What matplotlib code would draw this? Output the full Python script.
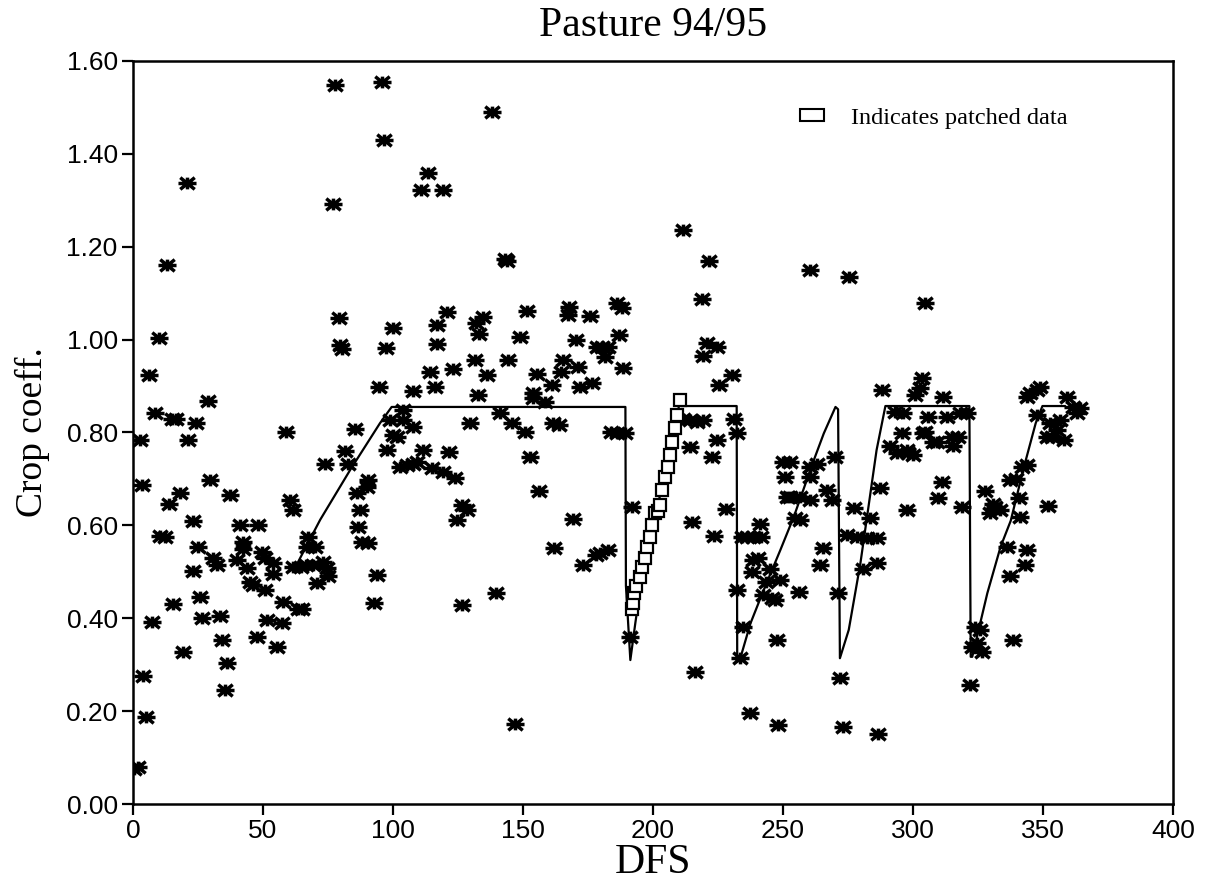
import matplotlib
matplotlib.use("Agg")
import matplotlib.pyplot as plt
import matplotlib.patches as mpatches
from matplotlib.path import Path

# ---- measured crop coefficient (asterisks) ----
obs_dfs = [0.5, 1.8, 2.7, 3.5, 4.0, 5.0, 6.3, 7.2, 8.5, 10.1, 10.4, 12.3, 13.0, 14.0, 15.0, 16.5,
           15.5, 18.1, 19.3, 20.6, 21.3, 23.2, 23.2, 24.2, 25.1, 25.8, 26.4, 29.0, 29.6, 30.9,
           32.2, 33.5, 34.1, 35.4, 36.3, 37.3, 39.9, 41.2, 42.4, 42.4, 43.7, 45.0, 46.3, 47.6,
           48.2, 49.5, 50.8, 50.8, 51.4, 54.0, 54.0, 55.3, 57.2, 57.8, 58.8,
           60.4, 61.7, 61.5, 63.6, 64.9, 64.5, 66.5, 66.8, 67.4, 69.4, 70.0, 70.7, 73.2, 73.8,
           74.5, 75.1, 76.8, 77.7, 79.4, 79.6, 80.5, 81.5, 82.8, 85.4, 86.0, 86.7, 87.3, 88.0,
           89.9, 90.5, 90.5, 92.8, 93.7, 94.7, 95.7, 96.5, 97.3, 97.6, 98.8, 100.1,
           100.1, 101.4, 102.7, 104.0, 104.0, 105.3, 107.8, 107.8, 107.8, 109.1, 110.6, 111.7,
           113.6, 114.2, 114.9, 116.2, 117.1, 117.1, 119.1, 119.4, 120.7, 121.7, 123.0, 124.0,
           124.5, 126.4, 126.4, 129.5, 128.3,
           132.0, 133.0, 134.7, 132.8, 131.5, 136.3, 138.0, 139.6, 141.2, 143.1, 144.0, 144.4,
           145.7, 146.9, 148.8, 150.8, 151.7, 152.7, 154.0, 154.0, 155.3, 156.3, 158.5, 161.0,
           161.7, 162.0, 163.7, 164.5, 165.5, 167.4, 167.7, 169.4, 170.3, 171.3, 171.9, 173.2,
           175.8, 176.4, 178.0, 178.5, 179.6, 180.5, 181.5, 182.8, 182.8, 184.0, 186.0, 186.2,
           187.0, 188.0, 188.3, 189.4,
           191.2, 191.8, 211.7, 211.7, 214.4, 214.4, 215.2, 216.2, 216.8, 219.0, 219.4, 219.4,
           220.9, 221.7, 222.7, 223.3, 224.5, 224.5, 225.3, 227.9, 230.3, 231.0, 232.2,
           232.5, 233.5, 234.2, 234.7, 236.0, 237.3, 238.0, 238.6, 238.6, 240.5, 241.2, 241.5,
           242.5, 243.4, 245.0, 245.8, 247.0, 247.6, 248.2, 249.0, 250.1, 250.8, 251.6, 252.7,
           252.7, 254.6, 256.0, 256.7, 256.7, 260.3, 260.4, 260.4, 260.4, 263.0, 264.2, 265.5,
           267.0, 268.7, 270.0, 271.3, 272.0, 273.2,
           274.5, 275.3, 277.2, 278.3, 282.2, 280.9, 283.5, 286.0, 286.0, 286.7, 287.3, 288.0,
           291.2, 293.1, 293.7, 295.7, 296.3, 297.6, 297.6, 298.2, 300.1, 300.8, 302.7, 303.3,
           304.0, 304.6, 304.6, 305.9, 307.8, 309.1, 309.7, 311.0, 311.7, 312.9, 314.9, 315.5,
           317.4, 318.1, 318.7, 320.6,
           321.9, 322.6, 323.8, 324.5, 325.8, 326.4, 327.7, 329.6, 330.9, 331.5, 333.5, 336.0,
           337.3, 337.3, 338.6, 339.5, 340.7, 341.2, 341.8, 343.1, 343.7, 343.7, 343.7, 345.0,
           347.6, 349.0, 347.6, 351.4, 351.8, 352.7, 353.5, 355.3, 356.5, 358.0, 359.1, 361.7,
           363.0, 364.2]
obs_kc = [0.075, 0.08, 0.784, 0.687, 0.276, 0.188, 0.924, 0.393, 0.841, 1.003, 0.577, 0.574, 1.161, 0.647, 0.828, 0.828,
          0.431, 0.670, 0.328, 1.337, 0.784, 0.610, 0.502, 0.821, 0.554, 0.446, 0.400, 0.868, 0.698, 0.529,
          0.515, 0.405, 0.353, 0.245, 0.303, 0.665, 0.525, 0.601, 0.565, 0.550, 0.508, 0.479, 0.472, 0.360,
          0.601, 0.543, 0.529, 0.461, 0.396, 0.518, 0.496, 0.339, 0.390, 0.436, 0.800,
          0.655, 0.633, 0.510, 0.421, 0.421, 0.510, 0.515, 0.554, 0.576, 0.515, 0.554, 0.477, 0.522, 0.733,
          0.508, 0.490, 1.291, 1.548, 1.046, 0.988, 0.980, 0.761, 0.733, 0.807, 0.669, 0.597, 0.633, 0.565,
          0.683, 0.698, 0.561, 0.432, 0.493, 0.899, 1.554, 1.430, 0.983, 0.762, 0.827, 1.024,
          0.795, 0.791, 0.726, 0.848, 0.827, 0.730, 0.812, 0.733, 0.890, 0.737, 1.322, 0.762,
          1.358, 0.931, 0.723, 0.899, 1.031, 0.990, 1.322, 0.716, 1.060, 0.757, 0.936, 0.701,
          0.612, 0.644, 0.428, 0.820, 0.633,
          1.035, 1.013, 1.049, 0.881, 0.956, 0.924, 1.491, 0.454, 0.842, 1.173, 1.170, 0.956,
          0.820, 0.172, 1.005, 0.800, 1.062, 0.747, 0.884, 0.874, 0.927, 0.675, 0.866, 0.902,
          0.820, 0.552, 0.816, 0.931, 0.956, 1.053, 1.071, 0.614, 0.999, 0.942, 0.899, 0.515,
          1.051, 0.906, 0.536, 0.985, 0.540, 0.985, 0.963, 0.985, 0.547, 0.800, 1.078, 0.798,
          1.011, 1.067, 0.938, 0.798,
          0.360, 0.640, 1.236, 0.830, 0.827, 0.769, 0.608, 0.285, 0.823, 1.087, 0.965, 0.827,
          0.992, 1.170, 0.748, 0.577, 0.985, 0.784, 0.902, 0.636, 0.924, 0.830, 0.798,
          0.461, 0.314, 0.576, 0.382, 0.576, 0.195, 0.500, 0.576, 0.525, 0.529, 0.604, 0.576,
          0.450, 0.479, 0.505, 0.443, 0.439, 0.353, 0.170, 0.482, 0.737, 0.705, 0.662, 0.737,
          0.662, 0.615, 0.457, 0.662, 0.612, 1.150, 0.726, 0.705, 0.655, 0.733, 0.515, 0.551,
          0.676, 0.655, 0.748, 0.455, 0.271, 0.166,
          0.579, 1.135, 0.637, 0.576, 0.572, 0.507, 0.615, 0.572, 0.518, 0.151, 0.680, 0.891,
          0.770, 0.845, 0.755, 0.798, 0.841, 0.762, 0.633, 0.755, 0.751, 0.881, 0.895, 0.917,
          0.798, 1.078, 0.802, 0.834, 0.780, 0.780, 0.658, 0.694, 0.877, 0.834, 0.791, 0.770,
          0.791, 0.841, 0.640, 0.841,
          0.256, 0.339, 0.382, 0.346, 0.375, 0.328, 0.673, 0.626, 0.647, 0.640, 0.633, 0.554,
          0.698, 0.490, 0.353, 0.699, 0.658, 0.619, 0.726, 0.515, 0.547, 0.730, 0.877, 0.884,
          0.891, 0.899, 0.838, 0.791, 0.642, 0.820, 0.790, 0.805, 0.827, 0.784, 0.877, 0.855,
          0.841, 0.852]

# ---- crop coefficient curve ----
curve_dfs = [62.0, 72.0, 83.5, 95.0, 99.5, 189.4, 189.6, 191.3, 193.2, 198.3, 203.5, 207.3, 210.3,
             210.8, 232.2, 232.4, 233.6, 237.5, 242.6, 249.0, 254.2, 261.9, 265.7, 270.2, 271.2,
             271.9, 275.3, 279.8, 286.0, 289.4, 321.7, 322.2, 322.8, 328.6, 333.7, 337.6, 342.7,
             347.2, 349.8, 358.4]
curve_kc = [0.505, 0.612, 0.719, 0.820, 0.855, 0.855, 0.470, 0.310, 0.389, 0.590, 0.676, 0.784, 0.865,
            0.857, 0.857, 0.315, 0.314, 0.389, 0.461, 0.547, 0.619, 0.741, 0.798, 0.855, 0.850,
            0.314, 0.375, 0.519, 0.762, 0.857, 0.857, 0.317, 0.317, 0.454, 0.554, 0.610, 0.726,
            0.820, 0.857, 0.857]

# ---- patched data (open squares) ----
patch_dfs = [192.0, 192.3, 192.6, 193.5, 194.9, 195.8, 196.8, 197.7, 198.7, 199.6, 200.9,
             202.0, 202.8, 203.5, 204.8, 205.7, 206.7, 207.3, 208.6, 209.3, 210.5]
patch_kc = [0.420, 0.432, 0.454, 0.470, 0.489, 0.511, 0.529, 0.554, 0.576, 0.601, 0.626,
            0.630, 0.644, 0.676, 0.705, 0.726, 0.752, 0.780, 0.809, 0.838, 0.870]

# asterisk-like marker, wider than tall
star = Path([(-1, 0), (1, 0), (-0.8, -0.65), (0.8, 0.65),
             (-0.8, 0.65), (0.8, -0.65), (0, -0.65), (0, 0.65)],
            [Path.MOVETO, Path.LINETO] * 4)

fig = plt.figure(figsize=(12.12, 8.9), dpi=100)
ax = fig.add_axes([0.1097, 0.0966, 0.8581, 0.8349])

ax.plot(curve_dfs, curve_kc, color="black", linewidth=1.6, zorder=2)
ax.plot(obs_dfs, obs_kc, linestyle="none", marker=star, markersize=13,
        markeredgewidth=2.5, color="black", zorder=3)
ax.plot(patch_dfs, patch_kc, linestyle="none", marker="s", markersize=8.5,
        markerfacecolor="white", markeredgecolor="black", markeredgewidth=1.6, zorder=4)

ax.set_xlim(0, 400)
ax.set_ylim(0, 1.6)
ax.set_xticks(range(0, 401, 50))
ax.set_yticks([0.0, 0.2, 0.4, 0.6, 0.8, 1.0, 1.2, 1.4, 1.6])
ax.set_yticklabels(["%.2f" % v for v in ax.get_yticks()])
ax.tick_params(direction="out", length=8, width=1.6, labelsize=19, pad=3)
for lab in ax.get_xticklabels() + ax.get_yticklabels():
    lab.set_family("Liberation Sans")
for sp in ax.spines.values():
    sp.set_linewidth(1.8)

serif = "Liberation Serif"
ax.set_title("Pasture 94/95", fontsize=30, family=serif, pad=18)
ax.set_xlabel("DFS", fontsize=30, family=serif, labelpad=0)
ax.set_ylabel("Crop coeff.", fontsize=27, family=serif, labelpad=12)

handle = mpatches.Patch(facecolor="white", edgecolor="black", linewidth=1.5)
ax.legend([handle], ["Indicates patched data"], loc="upper left", frameon=False,
          prop={"family": serif, "size": 17.5}, bbox_to_anchor=(0.641, 0.937),
          borderaxespad=0, borderpad=0, handlelength=1.0, handleheight=0.35,
          handletextpad=1.1)

fig.savefig("out.png", dpi=100)
